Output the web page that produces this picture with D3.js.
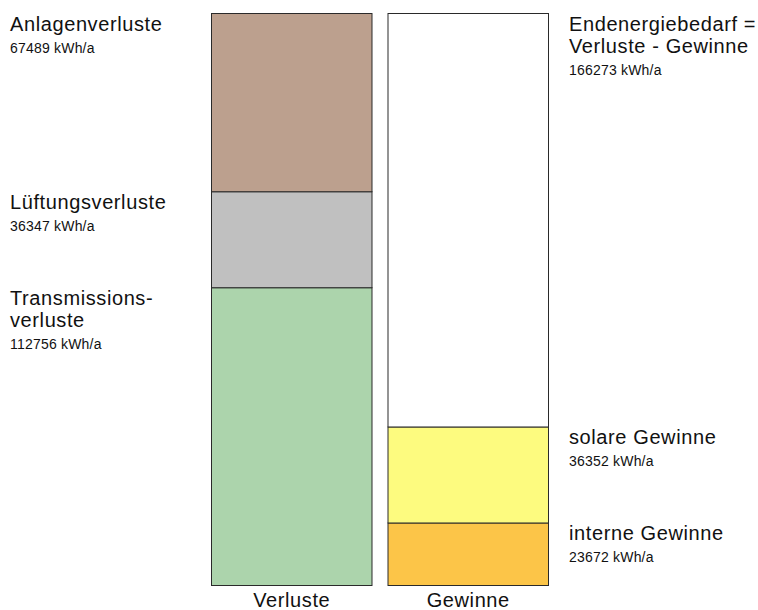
<!DOCTYPE html>
<html>
<head>
<meta charset="utf-8">
<script src="https://cdn.jsdelivr.net/npm/d3@7"></script>
<style>
  body { margin: 0; background: #fff; }
  text { font-family: "Liberation Sans", Arial, sans-serif; fill: #111; }
</style>
</head>
<body>
<div class="plot"></div>
<script>
const width = 758;
const height = 610;

// Verluste (bottom to top)
const lossLabels = [["Transmissions-", "verluste"], ["Lüftungsverluste"], ["Anlagenverluste"]];
const lossValues = [112756, 36347, 67489];
const lossColors = ["#acd4ac", "#c0c0c0", "#bca08e"];

// Gewinne (bottom to top)
const gainLabels = [["interne Gewinne"], ["solare Gewinne"]];
const gainValues = [23672, 36352];
const gainColors = ["#fcc548", "#fdfb7f"];

// Endenergiebedarf fills the rest of the Gewinne bar
const demandLabel = ["Endenergiebedarf =", "Verluste - Gewinne"];
const demandValue = 166273;

const barNames = ["Verluste", "Gewinne"];

const svg = d3.select('.plot')
    .append('svg')
    .attr('width', width)
    .attr('height', height)

const totalLoss = d3.sum(lossValues);

const y = d3.scaleLinear()
    .domain([0, totalLoss])
    .range([585, 13])

const x = d3.scaleBand()
    .domain(barNames)
    .range([211, 549])
    .paddingInner(0.085)

const stackUp = (values, labels, colors) => {
    let acc = 0;
    return values.map((v, i) => {
        const seg = {y0: acc, y1: acc + v, value: v, label: labels[i], color: colors[i]};
        acc += v;
        return seg;
    })
}

const lossSegs = stackUp(lossValues, lossLabels, lossColors)
    .map(d => ({...d, bar: "Verluste", side: "left"}));
const gainSegs = stackUp(gainValues, gainLabels, gainColors)
    .map(d => ({...d, bar: "Gewinne", side: "right"}));
const gainTop = d3.sum(gainValues);
gainSegs.push({y0: gainTop, y1: totalLoss, value: demandValue, label: demandLabel,
    color: "#ffffff", bar: "Gewinne", side: "right"});

const segs = lossSegs.concat(gainSegs);

svg.selectAll('rect.seg')
    .data(segs)
    .enter()
    .append('rect')
    .attr('class', 'seg')
    .attr('x', d => x(d.bar) + 0.5)
    .attr('y', d => y(d.y1) + 0.5)
    .attr('width', x.bandwidth() - 1)
    .attr('height', d => y(d.y0) - y(d.y1))
    .attr('fill', d => d.color)
    .attr('stroke', '#2a2a2a')
    .attr('stroke-width', 1)

const labels = svg.selectAll('g.lab')
    .data(segs)
    .enter()
    .append('g')
    .attr('class', 'lab')
    .attr('transform', d => `translate(${d.side === 'left' ? 10 : 569},${y(d.y1)})`)

labels.each(function (d) {
    const g = d3.select(this);
    d.label.forEach((line, i) => {
        g.append('text')
            .attr('font-size', 20)
            .attr('letter-spacing', 0.6)
            .attr('y', 18 + i * 22)
            .text(line)
    })
    g.append('text')
        .attr('font-size', 14)
        .attr('letter-spacing', 0.2)
        .attr('y', 18 + (d.label.length - 1) * 22 + 22)
        .text(d.value + " kWh/a")
})

svg.selectAll('text.bar-name')
    .data(barNames)
    .enter()
    .append('text')
    .attr('class', 'bar-name')
    .attr('text-anchor', 'middle')
    .attr('font-size', 20)
    .attr('letter-spacing', 0.6)
    .attr('x', d => x(d) + x.bandwidth() / 2)
    .attr('y', 607)
    .text(d => d)
</script>
</body>
</html>
